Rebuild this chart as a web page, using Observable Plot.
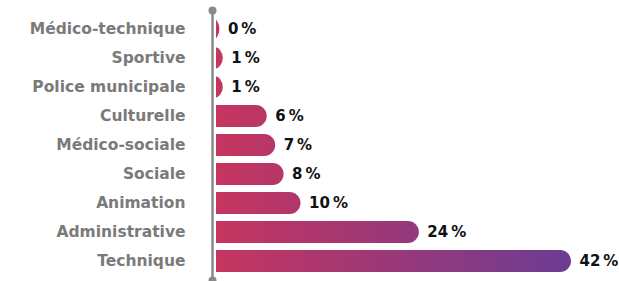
<!DOCTYPE html>
<html>
<head>
<meta charset="utf-8">
<script src="https://cdn.jsdelivr.net/npm/d3@7"></script>
<script src="https://cdn.jsdelivr.net/npm/@observablehq/plot@0.6"></script>
<style>
  html, body { margin: 0; padding: 0; background: #fff; }
  #chart { width: 619px; height: 281px; overflow: hidden; }
</style>
</head>
<body>
<div id="chart"></div>
<script>
const categories = ["Médico-technique", "Sportive", "Police municipale", "Culturelle", "Médico-sociale", "Sociale", "Animation", "Administrative", "Technique"];
const values = [0.4, 0.8, 0.8, 6, 7, 8, 10, 24, 42];
const labels = ["0", "1", "1", "6", "7", "8", "10", "24", "42"];

const data = categories.map((c, i) => ({category: c, value: values[i], label: labels[i] + "\u2009%"}));

const R = 1.35; // rounded cap extends behind the axis, clipped

const plot = Plot.plot({
  width: 619,
  height: 281,
  marginLeft: 216,
  marginRight: 48,
  marginTop: 10,
  marginBottom: 1,
  style: {fontFamily: "'DejaVu Sans', sans-serif", background: "#fff", overflow: "visible"},
  x: {domain: [0, 42], axis: null},
  y: {domain: categories, paddingInner: 0.24, paddingOuter: 0.26, label: null, tickSize: 0, tickPadding: 31},
  marks: [
    Plot.barX(data, {y: "category", x1: -R, x2: "value", fill: "url(#barGrad)", rx: 11, clip: true}),
    Plot.ruleX([0], {dx: -4, stroke: "#8a8a8a", strokeWidth: 2.5}),
    Plot.dot([0], {x: d => d, dx: -4, frameAnchor: "top", r: 4, fill: "#8a8a8a", stroke: "none"}),
    Plot.dot([0], {x: d => d, dx: -4, frameAnchor: "bottom", r: 4, fill: "#8a8a8a", stroke: "none"}),
    Plot.text(data, {y: "category", x: "value", text: "label", dx: 8, textAnchor: "start", fontSize: 15, fontWeight: 700, fill: "#111"})
  ]
});

// gradient in user space, positioned from the x scale
const xs = plot.scale("x");
const gx1 = xs.apply(0), gx2 = xs.apply(42);
const svg = d3.select(plot.tagName === "svg" ? plot : plot.querySelector("svg"));
const defs = svg.insert("defs", ":first-child");
const grad = defs.append("linearGradient").attr("id", "barGrad")
  .attr("gradientUnits", "userSpaceOnUse")
  .attr("x1", gx1).attr("x2", gx2).attr("y1", 0).attr("y2", 0);
grad.append("stop").attr("offset", 0).attr("stop-color", "#c6355f");
grad.append("stop").attr("offset", 1).attr("stop-color", "#6c3c93");

svg.selectAll("g[aria-label='y-axis tick label'] text")
  .attr("font-size", 15.5).attr("font-weight", 700).attr("fill", "#7a7a7a");
svg.selectAll("g[aria-label='y-axis tick label']")
  .attr("font-size", 15.5).attr("font-weight", 700).attr("fill", "#7a7a7a");

document.getElementById("chart").appendChild(plot);
</script>
</body>
</html>
